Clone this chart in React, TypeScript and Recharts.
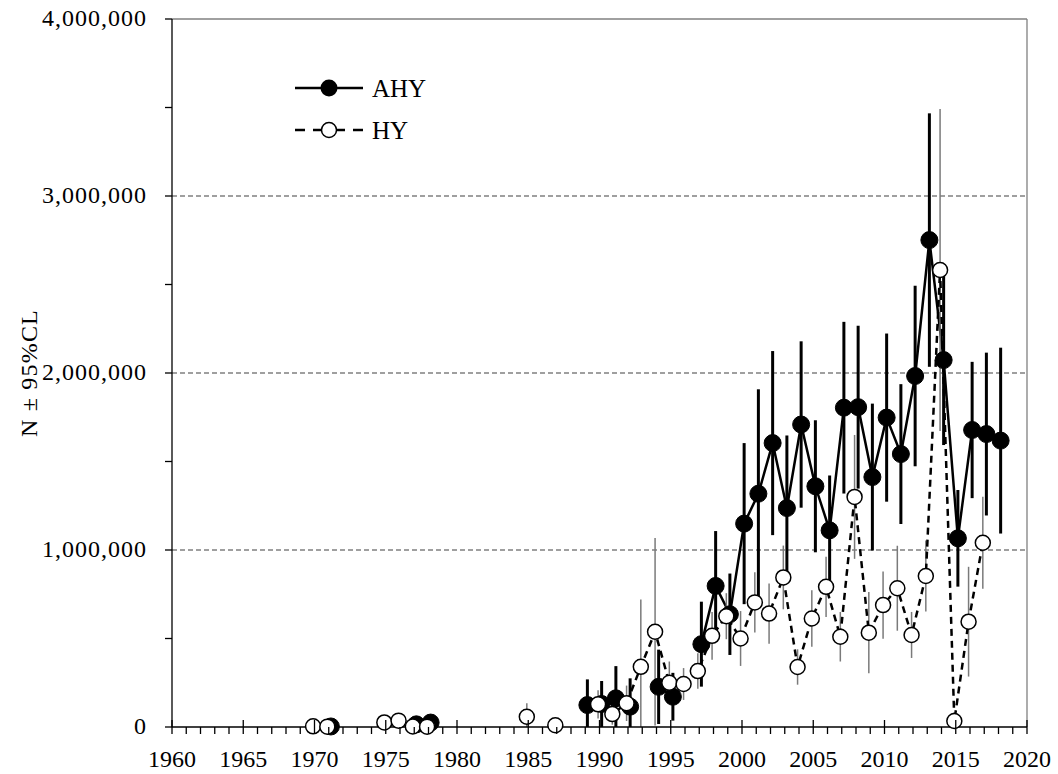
import React from 'react';
import { LineChart, Line, XAxis, YAxis, ErrorBar, ReferenceLine, Legend } from 'recharts';

const serif = '"Liberation Serif", "Times New Roman", serif';

// AHY: adults, N and half width of the 95% CL
const ahyYears = [1971, 1977, 1978, 1989, 1990, 1991, 1992, 1994, 1995, 1997, 1998, 1999,
  2000, 2001, 2002, 2003, 2004, 2005, 2006, 2007, 2008, 2009, 2010, 2011, 2012, 2013,
  2014, 2015, 2016, 2017, 2018];
const ahyN = [3000, 15000, 25000, 124000, 130000, 162000, 115000, 227000, 171000, 468000,
  797000, 637000, 1149000, 1318000, 1604000, 1237000, 1709000, 1360000, 1111000, 1804000,
  1807000, 1412000, 1748000, 1542000, 1983000, 2751000, 2073000, 1066000, 1678000,
  1655000, 1618000];
const ahyCI = [0, 0, 0, 145000, 130000, 182000, 160000, 210000, 135000, 240000, 310000,
  230000, 455000, 590000, 520000, 410000, 470000, 373000, 310000, 485000, 460000, 415000,
  475000, 395000, 510000, 716000, 480000, 273000, 385000, 460000, 525000];

// HY: young of the year
const hyYears = [1970, 1971, 1975, 1976, 1977, 1978, 1985, 1987, 1990, 1991, 1992, 1993,
  1994, 1995, 1996, 1997, 1998, 1999, 2000, 2001, 2002, 2003, 2004, 2005, 2006, 2007,
  2008, 2009, 2010, 2011, 2012, 2013, 2014, 2015, 2016, 2017];
const hyN = [4000, 2000, 26000, 36000, 3000, 2000, 58000, 10000, 128000, 73000, 134000,
  340000, 538000, 250000, 243000, 316000, 515000, 626000, 500000, 704000, 641000, 845000,
  339000, 613000, 792000, 510000, 1300000, 533000, 689000, 784000, 520000, 853000,
  2582000, 34000, 595000, 1041000];
const hyCI = [0, 0, 20000, 15000, 0, 0, 76000, 0, 80000, 60000, 100000, 380000, 530000,
  120000, 90000, 100000, 135000, 130000, 155000, 170000, 170000, 180000, 100000, 160000,
  170000, 140000, 350000, 230000, 190000, 240000, 130000, 200000, 910000, 30000, 310000,
  260000];

const majorYears = [1960, 1965, 1970, 1975, 1980, 1985, 1990, 1995, 2000, 2005, 2010, 2015, 2020];
const xTicks = Array.from({ length: 61 }, (_, i) => 1960 + i);
const yTicks = [0, 500000, 1000000, 1500000, 2000000, 2500000, 3000000, 3500000, 4000000];
const gridValues = [1000000, 2000000, 3000000];

// rows per series; a null row breaks the line where years are missing
function toRows(years: number[], n: number[], ci: number[], shift: number) {
  const rows: any[] = [];
  years.forEach((yr, i) => {
    if (i > 0 && yr - years[i - 1] > 1) rows.push({ x: yr - 0.5, n: null, err: null });
    rows.push({ x: yr + shift, n: n[i], err: ci[i] ? [Math.min(ci[i], n[i]), ci[i]] : null });
  });
  return rows;
}

const ahyRows = toRows(ahyYears, ahyN, ahyCI, 0.15);
const hyRows = toRows(hyYears, hyN, hyCI, -0.1);

const makeDot = (r: number, fill: string, sw: number) => (props: any) => {
  const { cx, cy, index } = props;
  if (cx == null || cy == null || Number.isNaN(cy)) return <g key={`d${index}`} />;
  return <circle key={`d${index}`} cx={cx} cy={cy} r={r} fill={fill} stroke="#000" strokeWidth={sw} />;
};

const XTick = (props: any) => {
  const { x, y, payload } = props;
  const major = majorYears.includes(payload.value);
  return (
    <g>
      <line x1={x} x2={x} y1={major ? y - 7 : y} y2={y + 7} stroke="#000" strokeWidth={1.3} />
      {major && (
        <text x={x} y={y + 40} textAnchor="middle" fontSize={24} fontFamily={serif} fill="#000">
          {payload.value}
        </text>
      )}
    </g>
  );
};

const YTick = (props: any) => {
  const { x, y, payload } = props;
  const major = payload.value % 1000000 === 0;
  return (
    <g>
      <line x1={x - 7} x2={x} y1={y} y2={y} stroke="#000" strokeWidth={1.3} />
      {major && (
        <text x={x - 25} y={y + 7} textAnchor="end" fontSize={24} letterSpacing={1}
          fontFamily={serif} fill="#000">
          {payload.value.toLocaleString('en-US')}
        </text>
      )}
    </g>
  );
};

const AxisTitle = () => (
  <text x={29} y={373} transform="rotate(-90 29 373)" textAnchor="middle" dominantBaseline="central"
    fontSize={24} letterSpacing={1.2} fontFamily={serif} fill="#000">
    N ± 95%CL
  </text>
);

const LegendBox = () => (
  <svg width={170} height={90} style={{ display: 'block' }}>
    <line x1={5} x2={73} y1={26} y2={26} stroke="#000" strokeWidth={2.5} />
    <circle cx={39} cy={26} r={8.5} fill="#000" />
    <text x={82} y={35} fontSize={25} fontFamily={serif} fill="#000">AHY</text>
    <line x1={5} x2={15} y1={68} y2={68} stroke="#000" strokeWidth={2.5} />
    <line x1={23} x2={31} y1={68} y2={68} stroke="#000" strokeWidth={2.5} />
    <line x1={47} x2={55} y1={68} y2={68} stroke="#000" strokeWidth={2.5} />
    <line x1={63} x2={73} y1={68} y2={68} stroke="#000" strokeWidth={2.5} />
    <circle cx={39} cy={68} r={7.5} fill="#fff" stroke="#000" strokeWidth={1.5} />
    <text x={82} y={77} fontSize={25} fontFamily={serif} fill="#000">HY</text>
  </svg>
);

export default function App() {
  return (
    <div style={{ position: 'absolute', left: 0, top: 0 }}>
      <LineChart width={1058} height={774} margin={{ top: 19, right: 31, bottom: 0, left: 0 }}>
        <XAxis type="number" dataKey="x" domain={[1960, 2020]} ticks={xTicks} interval={0}
          tick={<XTick />} tickLine={false} tickSize={0} tickMargin={0} height={47}
          axisLine={{ stroke: '#000', strokeWidth: 1.3 }} />
        <YAxis type="number" domain={[0, 4000000]} ticks={yTicks} interval={0}
          tick={<YTick />} tickLine={false} tickSize={0} tickMargin={0} width={172}
          axisLine={{ stroke: '#000', strokeWidth: 1.3 }} label={{ content: AxisTitle }} />
        {gridValues.map((v) => (
          <ReferenceLine key={v} y={v} stroke="#808080" strokeWidth={1.3} strokeDasharray="5 3" />
        ))}
        <ReferenceLine y={4000000} stroke="#808080" strokeWidth={1.3} />
        <ReferenceLine x={2020} stroke="#808080" strokeWidth={1.3} />
        <Legend layout="vertical" align="center" verticalAlign="middle" content={<LegendBox />}
          wrapperStyle={{ left: 290, top: 62, width: 170, height: 90 }} />
        <Line data={ahyRows} dataKey="n" name="AHY" stroke="#000" strokeWidth={2.5}
          dot={makeDot(8.5, '#000', 1)} activeDot={false} connectNulls={false}
          isAnimationActive={false}>
          <ErrorBar dataKey="err" direction="y" width={0} stroke="#000" strokeWidth={3} />
        </Line>
        <Line data={hyRows} dataKey="n" name="HY" stroke="#000" strokeWidth={2.5}
          strokeDasharray="7 5" dot={makeDot(7.5, '#fff', 1.5)} activeDot={false}
          connectNulls={false} isAnimationActive={false}>
          <ErrorBar dataKey="err" direction="y" width={0} stroke="#7a7a7a" strokeWidth={1.5} />
        </Line>
      </LineChart>
    </div>
  );
}
